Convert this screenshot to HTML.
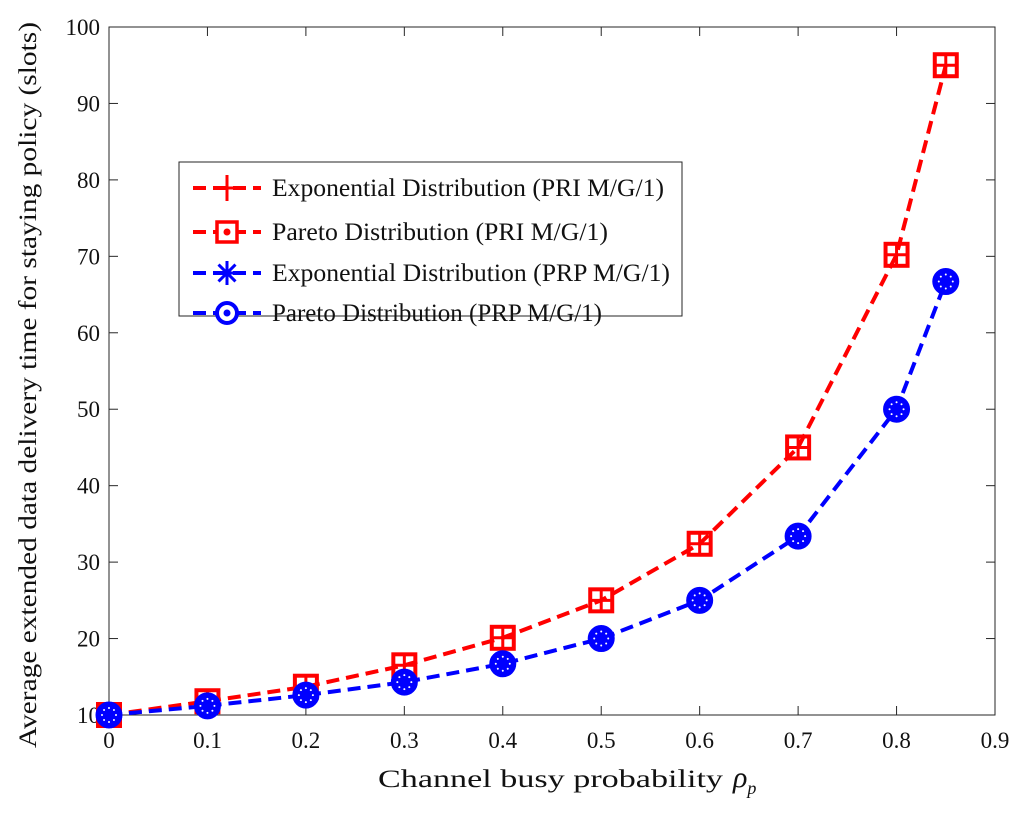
<!DOCTYPE html>
<html><head><meta charset="utf-8"><style>
body{margin:0;background:#fff}
svg text{font-family:"Liberation Serif",serif;fill:#111}
</style></head><body>
<svg id="chart" width="1024" height="815" viewBox="0 0 1024 815" xmlns="http://www.w3.org/2000/svg"></svg>
<script>
const xValues=[0,0.1,0.2,0.3,0.4,0.5,0.6,0.7,0.8,0.85];
const priValues=[10,11.8,13.7,16.5,20.1,25,32.4,45,70.2,95];
const prpValues=[10,11.2,12.6,14.3,16.7,20,25,33.4,50,66.7];
const xTicks=[0,0.1,0.2,0.3,0.4,0.5,0.6,0.7,0.8,0.9];
const yTicks=[10,20,30,40,50,60,70,80,90,100];
const legendLabels=["Exponential Distribution (PRI M/G/1)","Pareto Distribution (PRI M/G/1)","Exponential Distribution (PRP M/G/1)","Pareto Distribution (PRP M/G/1)"];
const legendWidths=[392,336,398,330];

const L=109,R=995,T=27,B=715;
const sx=v=>L+(v-0)/(0.9)*(R-L);
const sy=v=>B-(v-10)/90*(B-T);
const svg=document.getElementById('chart');
const NS='http://www.w3.org/2000/svg';
function mk(tag,attrs,parent){const e=document.createElementNS(NS,tag);for(const k in attrs)e.setAttribute(k,attrs[k]);(parent||svg).appendChild(e);return e;}

const frame=mk('rect',{x:L,y:T,width:R-L,height:B-T,fill:'#fff',stroke:'#262626','stroke-width':1});



xTicks.forEach(t=>{
  const x=sx(t);
  mk('line',{x1:x,y1:B,x2:x,y2:B-9,stroke:'#262626'});
  mk('line',{x1:x,y1:T,x2:x,y2:T+9,stroke:'#262626'});
  const tx=mk('text',{x:x,y:B+33,'text-anchor':'middle','font-size':23});
  tx.textContent=String(t);
  
  
});
yTicks.forEach(t=>{
  const y=sy(t);
  mk('line',{x1:L,y1:y,x2:L+9,y2:y,stroke:'#262626'});
  mk('line',{x1:R,y1:y,x2:R-9,y2:y,stroke:'#262626'});
  const tx=mk('text',{x:L-9,y:y+8,'text-anchor':'end','font-size':23});
  tx.textContent=String(t);
  
  
});

const xt=mk('text',{x:378,y:787,'font-size':25});
xt.innerHTML='<tspan textLength="345" lengthAdjust="spacingAndGlyphs">Channel busy probability</tspan><tspan font-style="italic" font-size="30" dx="10">ρ</tspan><tspan font-style="italic" font-size="18" dy="7">p</tspan>';


const yt=mk('text',{x:0,y:0,'text-anchor':'middle','font-size':25,transform:'translate(36,385) rotate(-90)',textLength:726,lengthAdjust:'spacingAndGlyphs'});
yt.textContent='Average extended data delivery time for staying policy (slots)';



function square(g,x,y,c){
  mk('rect',{x:x-11,y:y-11,width:22,height:22,fill:'none',stroke:c,'stroke-width':4},g);
  mk('line',{x1:x,y1:y-11,x2:x,y2:y+11,stroke:c,'stroke-width':3},g);
  mk('line',{x1:x-11,y1:y,x2:x+11,y2:y,stroke:c,'stroke-width':3},g);
}
function circ(g,x,y,c){
  mk('circle',{cx:x,cy:y,r:11.5,fill:c,stroke:c,'stroke-width':4},g);
  for(let i=0;i<8;i++){const a=i*Math.PI/4;mk('circle',{cx:x+7*Math.cos(a),cy:y+7*Math.sin(a),r:1,fill:'#fff'},g);}
}
function series(vals,c,marker,name){
  const g=mk('g',{});
  
  
  const d=vals.map((v,i)=>(i?'L':'M')+sx(xValues[i])+' '+sy(v)).join(' ');
  mk('path',{d:d,fill:'none',stroke:c,'stroke-width':4,'stroke-dasharray':'13 7'},g);
  vals.forEach((v,i)=>marker(g,sx(xValues[i]),sy(v),c));
}
series(priValues,'#ff0000',square,'pri-series');
series(prpValues,'#0000ff',circ,'prp-series');

const lg=mk('g',{});


mk('rect',{x:179,y:162,width:503,height:154,fill:'#fff',stroke:'#262626','stroke-width':1},lg);
const rows=[188,232,273,313];
const cols=['#ff0000','#ff0000','#0000ff','#0000ff'];
rows.forEach((y,i)=>{
  const e=mk('g',{},lg);
  
  
  mk('line',{x1:193,y1:y,x2:261,y2:y,stroke:cols[i],'stroke-width':4,'stroke-dasharray':'13 7'},e);
  const x=227,c=cols[i];
  if(i==0){mk('line',{x1:x,y1:y-13,x2:x,y2:y+13,stroke:c,'stroke-width':3},e);mk('line',{x1:x-13,y1:y,x2:x+13,y2:y,stroke:c,'stroke-width':3},e);}
  if(i==1){mk('rect',{x:x-10,y:y-10,width:20,height:20,fill:'#fff',stroke:c,'stroke-width':3.5},e);mk('circle',{cx:x,cy:y,r:3.5,fill:c},e);}
  if(i==2){for(let k=0;k<4;k++){const a=k*Math.PI/4;mk('line',{x1:x-12*Math.cos(a),y1:y-12*Math.sin(a),x2:x+12*Math.cos(a),y2:y+12*Math.sin(a),stroke:c,'stroke-width':3},e);}}
  if(i==3){mk('circle',{cx:x,cy:y,r:10,fill:'#fff',stroke:c,'stroke-width':4},e);mk('circle',{cx:x,cy:y,r:3.5,fill:c},e);}
  const t=mk('text',{x:272,y:y+8,'font-size':25,textLength:legendWidths[i],lengthAdjust:'spacingAndGlyphs'},e);
  t.textContent=legendLabels[i];
});
</script>
</body></html>
